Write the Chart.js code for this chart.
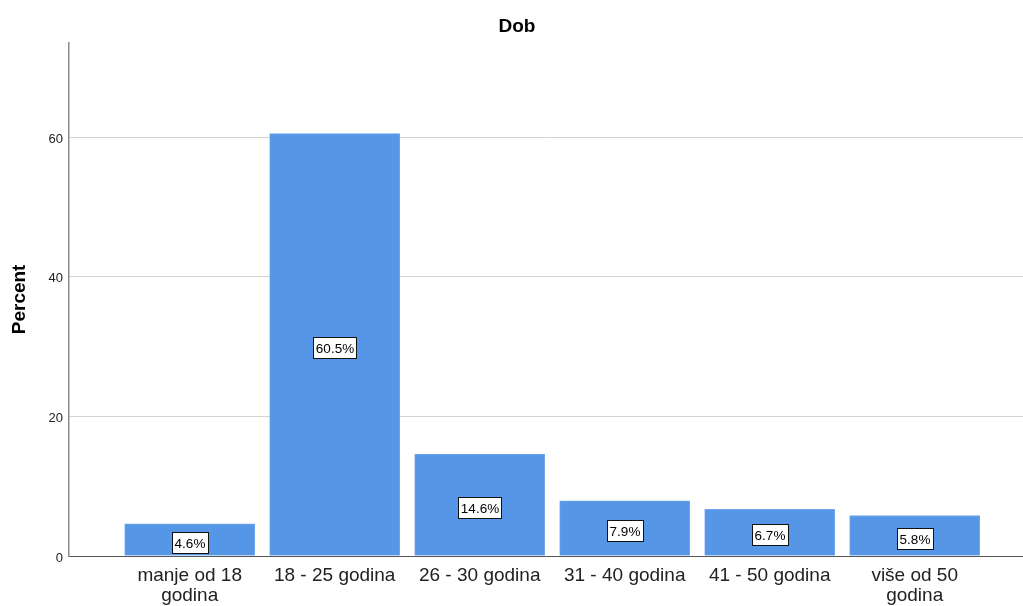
<!DOCTYPE html>
<html><head><meta charset="utf-8">
<script src="https://cdn.jsdelivr.net/npm/chart.js@4"></script>
<style>html,body{margin:0;padding:0;background:#fff;overflow:hidden}#wrap{position:relative;width:1023px;height:606px}</style>
</head><body><div id="wrap"><canvas id="c"></canvas></div>
<script>
const chartTitle = 'Dob';
const yAxisTitle = 'Percent';
const categories = [['manje od 18', 'godina'], '18 - 25 godina', '26 - 30 godina', '31 - 40 godina', '41 - 50 godina', ['više od 50', 'godina']];
const percentValues = [4.6, 60.5, 14.6, 7.9, 6.7, 5.8];
const yTickValues = [0, 20, 40, 60];
const FONT = '"Liberation Sans", Arial, Helvetica, sans-serif';

const labelBoxes = {
  id: 'labelBoxes',
  afterDatasetsDraw(chart) {
    const ctx = chart.ctx;
    const meta = chart.getDatasetMeta(0);
    ctx.save();
    ctx.font = '13.5px ' + FONT;
    ctx.textAlign = 'center';
    ctx.textBaseline = 'middle';
    meta.data.forEach((bar, i) => {
      const text = percentValues[i].toFixed(1) + '%';
      const w = Math.round(ctx.measureText(text).width) + 6;
      const h = 22;
      const cx = Math.round(bar.x);
      const cy = Math.round((bar.y + bar.base) / 2) + 3;
      const x0 = Math.round(cx - w / 2), y0 = Math.round(cy - h / 2);
      ctx.fillStyle = '#fff';
      ctx.fillRect(x0, y0, w, h);
      ctx.strokeStyle = '#111';
      ctx.lineWidth = 1;
      ctx.strokeRect(x0 + 0.5, y0 + 0.5, w - 1, h - 1);
      ctx.fillStyle = '#000';
      ctx.fillText(text, cx, cy + 1);
    });
    ctx.restore();
  }
};

new Chart(document.getElementById('c'), {
  type: 'bar',
  data: {
    datasets: [{
      data: percentValues.map((v, i) => ({ x: i, y: v })),
      backgroundColor: '#5596e6',
      borderColor: '#6fa6ea',
      borderWidth: 1,
      borderSkipped: 'bottom',
      barThickness: 130
    }]
  },
  plugins: [labelBoxes],
  options: {
    responsive: true,
    maintainAspectRatio: false,
    animation: false,
    devicePixelRatio: 1,
    layout: { padding: { left: 11, right: 0, top: 0, bottom: 0 } },
    plugins: {
      legend: { display: false },
      tooltip: { enabled: false },
      title: {
        display: true,
        text: chartTitle,
        color: '#000',
        font: { family: FONT, size: 19, weight: 'bold', lineHeight: 1.2 },
        padding: { top: 15, bottom: 5 }
      }
    },
    scales: {
      x: {
        type: 'linear',
        offset: false,
        min: -0.8324,
        max: 5.7469,
        afterBuildTicks: (axis) => { axis.ticks = categories.map((_, i) => ({ value: i })); },
        afterFit: (scale) => { scale.height = 50; },
        grid: { display: false, drawTicks: false },
        border: { display: true, color: '#555', width: 1 },
        ticks: {
          padding: 10,
          maxRotation: 0,
          autoSkip: false,
          color: '#222',
          font: { family: FONT, size: 19, lineHeight: '20px' },
          callback: (v) => categories[v]
        }
      },
      y: {
        min: 0,
        max: 73.5,
        afterBuildTicks: (axis) => { axis.ticks = yTickValues.map(v => ({ value: v })); },
        afterFit: (scale) => { scale.width = 58; },
        grid: { color: '#d2d2d2', lineWidth: 1, drawTicks: false },
        border: { display: true, color: '#8c8c8c', width: 1.5 },
        ticks: {
          padding: 6,
          labelOffset: 2,
          color: '#222',
          font: { family: FONT, size: 13 }
        },
        title: {
          display: true,
          text: yAxisTitle,
          color: '#000',
          font: { family: FONT, size: 19, weight: 'bold', lineHeight: '18px' },
          padding: { top: 0, bottom: 0 }
        }
      }
    }
  }
});
</script>
</body></html>
